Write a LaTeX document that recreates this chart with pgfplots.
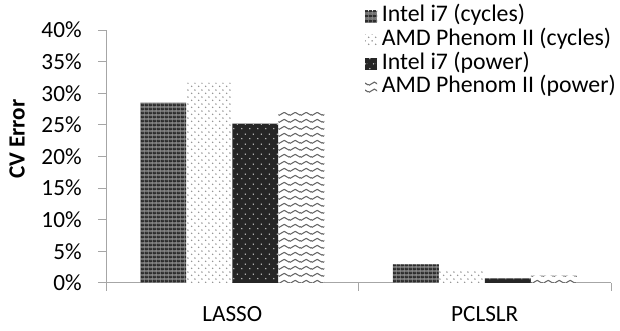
\documentclass[border=0pt]{standalone}
\usepackage{pgfplots}
\pgfplotsset{compat=1.18}
\usetikzlibrary{patterns.meta}
\usepackage{fontspec}
\setmainfont{Carlito}

\tikzdeclarepattern{
  name=icyc, type=colored,
  bottom left={(0pt,0pt)}, top right={(2.2pt,2.2pt)}, tile size={(2.2pt,2.2pt)},
  code={
    \fill[black!85] (1.1pt,1.1pt) circle (0.75pt);
    \fill[black!20] (0pt,0pt) circle (0.3pt);
    \fill[black!20] (2.2pt,0pt) circle (0.3pt);
    \fill[black!20] (0pt,2.2pt) circle (0.3pt);
    \fill[black!20] (2.2pt,2.2pt) circle (0.3pt);
  }
}
\tikzdeclarepattern{
  name=acyc, type=colored,
  bottom left={(0pt,0pt)}, top right={(3.4pt,3.4pt)}, tile size={(3.4pt,3.4pt)},
  code={
    \fill[black!45] (0.85pt,0.85pt) circle (0.4pt);
    \fill[black!45] (2.55pt,2.55pt) circle (0.4pt);
  }
}
\tikzdeclarepattern{
  name=ipow, type=colored,
  bottom left={(0pt,0pt)}, top right={(4pt,5pt)}, tile size={(4pt,5pt)},
  code={
    \fill[black!25] (1pt,1.25pt) circle (0.42pt);
    \fill[black!25] (3pt,3.75pt) circle (0.42pt);
  }
}
\tikzdeclarepattern{
  name=apow, type=colored,
  bottom left={(0pt,0pt)}, top right={(5.6pt,3.3pt)}, tile size={(5.6pt,3.3pt)},
  code={
    \draw[black!60, line width=0.55pt] (-2.8pt,2.45pt) -- (0pt,0.85pt) -- (2.8pt,2.45pt) -- (5.6pt,0.85pt) -- (8.4pt,2.45pt);
  }
}

\pgfplotstableread{
x  icyc  acyc  ipow  apow
0  28.5  31.7  25.2  27.0
1  2.95  1.95  0.75  1.15
}\cverr

\begin{document}
\begin{tikzpicture}
\path[use as bounding box] (0,0) rectangle (310pt,165.5pt);
\begin{axis}[
  at={(53pt,24pt)}, anchor=south west,
  scale only axis, width=252.5pt, height=126.5pt,
  ybar=0pt, bar width=23pt,
  xmin=-0.5, xmax=1.5, ymin=0, ymax=40,
  axis x line*=bottom, axis y line*=left,
  axis line style={-, black!35, line width=0.5pt},
  tick style={black!35, line width=0.5pt},
  tick align=outside, major tick length=4pt,
  xtick={-0.5,0.5,1.5}, xticklabels={},
  extra x ticks={0,1}, extra x tick labels={LASSO,PCLSLR},
  extra x tick style={major tick length=0pt,
    xticklabel style={anchor=base, yshift=-19.5pt, inner sep=0pt}},
  ytick={0,5,...,40},
  yticklabel={\pgfmathprintnumber[assume math mode=true]{\tick}\%},
  yticklabel style={anchor=east, inner sep=0pt, xshift=-8pt},
  tick label style={font=\fontsize{11.6}{13.9}\selectfont, text=black},
  ylabel={CV Error},
  every axis y label/.style={at={(axis description cs:-0.176,0.569)}, rotate=90, anchor=center,
    font=\bfseries\fontsize{11.6}{13.9}\selectfont},
  legend style={at={(axis description cs:0.513,1.1)}, anchor=north west,
    draw=none, fill=none, inner sep=0pt, outer sep=0pt, row sep=0pt,
    font=\fontsize{11.9}{14}\selectfont,
    nodes={inner sep=0.4pt, text height=8.2pt, text depth=2.8pt, anchor=west}},
  legend cell align=left,
  legend image code/.code={\fill[#1] (0pt,-3pt) rectangle (6pt,3pt); \path (8pt,0pt);},
]
\addplot[draw=none, fill=black!55, postaction={pattern=icyc}] table[x=x,y=icyc]{\cverr};
\addplot[draw=none, fill=white, postaction={pattern=acyc}] table[x=x,y=acyc]{\cverr};
\addplot[draw=none, fill=black!85, postaction={pattern=ipow}] table[x=x,y=ipow]{\cverr};
\addplot[draw=none, fill=white, postaction={pattern=apow}] table[x=x,y=apow]{\cverr};
\legend{Intel i7 (cycles),AMD Phenom II (cycles),Intel i7 (power),AMD Phenom II (power)}
\end{axis}
\end{tikzpicture}
\end{document}
